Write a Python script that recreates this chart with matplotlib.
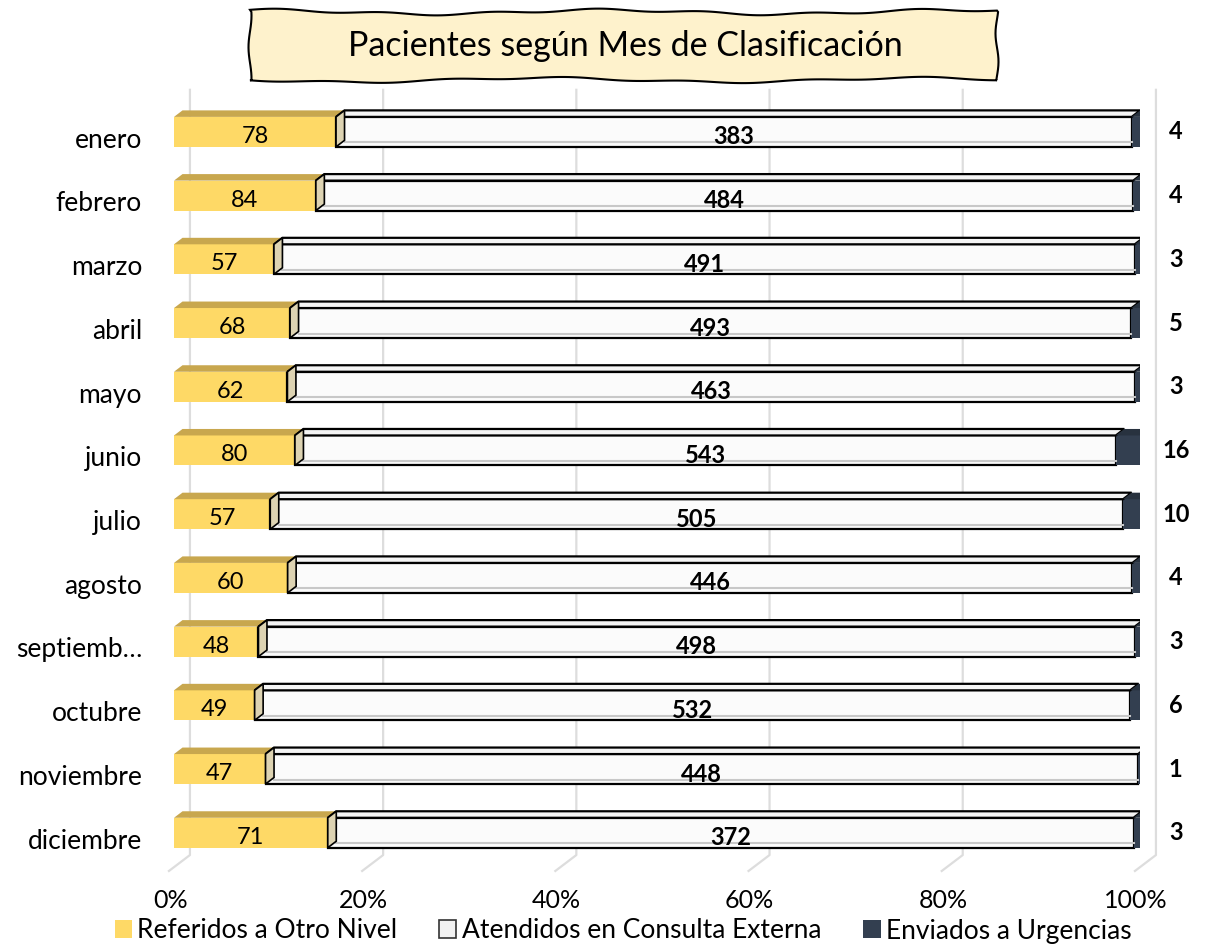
import numpy as np
import matplotlib
matplotlib.use("Agg")
import matplotlib.pyplot as plt
from matplotlib.patches import Polygon, Rectangle

plt.rcParams['font.family'] = ['Lato', 'DejaVu Sans']

# data
meses = ["enero", "febrero", "marzo", "abril", "mayo", "junio", "julio",
         "agosto", "septiemb…", "octubre", "noviembre", "diciembre"]
referidos = [78, 84, 57, 68, 62, 80, 57, 60, 48, 49, 47, 71]
atendidos = [383, 484, 491, 493, 463, 543, 505, 446, 498, 532, 448, 372]
urgencias = [4, 4, 3, 5, 3, 16, 10, 4, 3, 6, 1, 3]
ticks = [0, 0.2, 0.4, 0.6, 0.8, 1.0]
tick_labels = ["0%", "20%", "40%", "60%", "80%", "100%"]
series_names = ["Referidos a Otro Nivel", "Atendidos en Consulta Externa", "Enviados a Urgencias"]

amarillo = "#FED966"
amarillo_top = "#C8A74E"
blanco = "#FBFBFB"
oscuro = "#333F50"
oscuro_top = "#28323F"
oscuro_side = "#1E2633"
beige = "#DDD3B2"
grid_c = "#DDDDDD"

W, H = 1217, 944
fig = plt.figure(figsize=(W / 100, H / 100), dpi=100)
ax = fig.add_axes([174 / W, 1 - 864.6 / H, 966 / W, 764.6 / H])
ax.set_xlim(0, 1)
ax.set_ylim(11.5, -0.5)
ax.axis('off')

ref = np.array(referidos, float)
ate = np.array(atendidos, float)
urg = np.array(urgencias, float)
tot = ref + ate + urg
f_ref, f_ate, f_urg = ref / tot, ate / tot, urg / tot
y = np.arange(len(meses))

h = 0.47
ddx = 8.5 / 966
ddy = 6.5 / 63.7

# back wall gridlines with the floor diagonals
gdx = 0.0165
for t in ticks:
    ax.plot([t + gdx, t + gdx, t + gdx - 21 / 966],
            [-0.66, 11.35, 11.6], color=grid_c, lw=1.6, zorder=0, clip_on=False)
for t, lab in zip(ticks, tick_labels):
    ax.text(t - 0.004, 12.06, lab, ha='center', va='center', fontsize=18, clip_on=False)


def top_face(x0, x1, yc, color, ec='none', lw=0):
    yt = yc - h / 2
    p = Polygon([(x0, yt), (x1, yt), (x1 + ddx, yt - ddy), (x0 + ddx, yt - ddy)],
                closed=True, fc=color, ec=ec, lw=lw, zorder=3)
    ax.add_patch(p)


def side_face(x, yc, color, ec='none', lw=0, z=3):
    yt, yb = yc - h / 2, yc + h / 2
    p = Polygon([(x, yt), (x + ddx, yt - ddy), (x + ddx, yb - ddy), (x, yb)],
                closed=True, fc=color, ec=ec, lw=lw, zorder=z)
    ax.add_patch(p)


ax.barh(y, f_ref, height=h, color=amarillo, zorder=2)
ax.barh(y, f_ate, left=f_ref, height=h, color=blanco, edgecolor='black', lw=1.6, zorder=2)
ax.barh(y, f_urg, left=f_ref + f_ate, height=h, color=oscuro, zorder=2)

for i in y:
    a, b, c = f_ref[i], f_ate[i], f_urg[i]
    top_face(0, a, i, amarillo_top)
    top_face(a, a + b, i, "#F4F4F4", ec='black', lw=1.6)
    side_face(a, i, beige, ec='black', lw=1.2, z=4)
    # light inner line of the white bar
    ax.plot([a + ddx, a + b], [i + h / 2 - 0.07] * 2, color="#C8C8C8", lw=1.5, zorder=3)
    top_face(a + b, 1.0, i, oscuro_top)
    side_face(1.0, i, oscuro_side)

    ax.text(a / 2, i + 0.07, str(referidos[i]), ha='center', va='center', fontsize=17, zorder=5)
    ax.text(a + b / 2, i + 0.08, str(atendidos[i]), ha='center', va='center',
            fontsize=17, fontweight='bold', zorder=5)
    ax.text(1.0 + 0.037, i, str(urgencias[i]), ha='center', va='center',
            fontsize=17, fontweight='bold', zorder=5, clip_on=False)
    ax.text(-0.033, i + 0.13, meses[i], ha='right', va='center', fontsize=19, clip_on=False)

# wavy title box
xs = np.linspace(250, 997, 200)
top = 12 + 2.2 * np.sin(xs / 55.0) + 1.2 * np.sin(xs / 17.0 + 1)
bot = 80 + 2.2 * np.sin(xs / 60.0 + 2) + 1.0 * np.sin(xs / 19.0)
ys_side = np.linspace(12, 80, 20)
left = 250 + 1.5 * np.sin(ys_side / 10.0)
right = 997 + 1.5 * np.sin(ys_side / 9.0 + 1)
pts = list(zip(xs, top)) + list(zip(right, ys_side)) + list(zip(xs[::-1], bot[::-1])) + list(zip(left[::-1], ys_side[::-1]))
pts = [(px / W, 1 - py / H) for px, py in pts]
fig.patches.append(Polygon(pts, closed=True, fc="#FEF2CC", ec='black', lw=1.5,
                           transform=fig.transFigure, figure=fig))
fig.text(625 / W, 1 - 46 / H, "Pacientes según Mes de Clasificación",
         ha='center', va='center', fontsize=24.5)

handles = [Rectangle((0, 0), 1, 1, fc=amarillo, ec='none'),
           Rectangle((0, 0), 1, 1, fc="#F2F2F2", ec='#333333', lw=1.2),
           Rectangle((0, 0), 1, 1, fc=oscuro, ec='none')]
fig.legend(handles, series_names, loc='center', bbox_to_anchor=(623 / W, 1 - 931 / H),
           ncol=3, frameon=False, fontsize=19, handlelength=0.65, handleheight=0.65,
           handletextpad=0.2, columnspacing=1.6, borderpad=0)

fig.savefig("out.png", dpi=100)
